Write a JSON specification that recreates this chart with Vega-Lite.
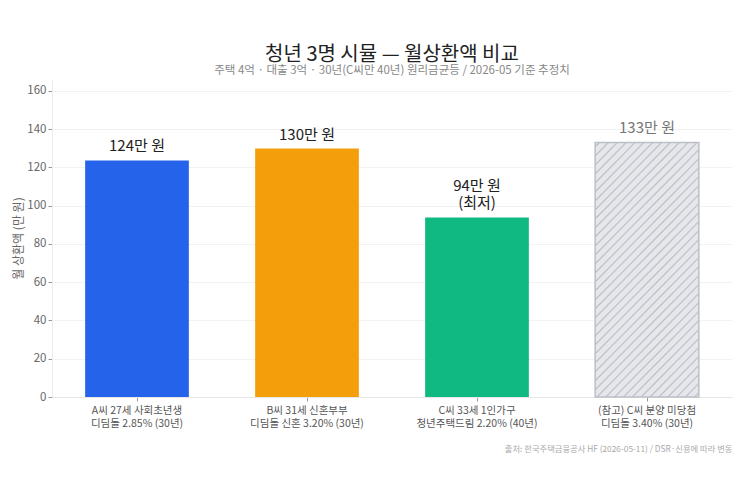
{
  "$schema": "https://vega.github.io/schema/vega-lite/v6.json",
  "width": 750,
  "height": 500,
  "autosize": {"type": "fit", "contains": "padding"},
  "padding": {"left": 12, "right": 18, "top": 44, "bottom": 47},
  "background": "white",
  "config": {"font": "Noto Sans CJK KR", "view": {"stroke": null}},
  "title": {
    "text": "청년 3명 시뮬 — 월상환액 비교",
    "subtitle": "주택 4억 · 대출 3억 · 30년(C씨만 40년) 원리금균등 / 2026-05 기준 추정치",
    "fontSize": 20,
    "fontWeight": "normal",
    "color": "#222222",
    "subtitleFontSize": 11.5,
    "subtitleColor": "#888888",
    "subtitlePadding": 0,
    "anchor": "middle",
    "frame": "group",
    "offset": 3
  },
  "data": {
    "values": [
      {"key": "A", "label": "A씨 27세 사회초년생|디딤돌 2.85% (30년)", "value": 123.7, "text": "124만 원"},
      {"key": "B", "label": "B씨 31세 신혼부부|디딤돌 신혼 3.20% (30년)", "value": 129.9, "text": "130만 원"},
      {"key": "C", "label": "C씨 33세 1인가구|청년주택드림 2.20% (40년)", "value": 93.9, "text": "94만 원\n(최저)"},
      {"key": "D", "label": "(참고) C씨 분양 미당첨|디딤돌 3.40% (30년)", "value": 133.1, "text": "133만 원"}
    ]
  },
  "encoding": {
    "x": {
      "field": "label",
      "type": "nominal",
      "sort": null,
      "scale": {"paddingInner": 0.39, "paddingOuter": 0.195},
      "axis": {
        "labelExpr": "split(datum.value, '|')",
        "labelAngle": 0,
        "labelFontSize": 10.5,
        "labelColor": "#555555",
        "labelLineHeight": 13,
        "labelPadding": 4,
        "title": "출처: 한국주택금융공사 HF (2026-05-11) / DSR·신용에 따라 변동",
        "titleFontSize": 8.3,
        "titleColor": "#aaaaaa",
        "titleFontWeight": "normal",
        "titleAnchor": "end",
        "titlePadding": 16,
        "domainColor": "#e6e6e6",
        "tickColor": "#999999",
        "tickSize": 4,
        "grid": false
      }
    },
    "y": {
      "field": "value",
      "type": "quantitative",
      "scale": {"domain": [0, 166.25], "nice": false},
      "axis": {
        "title": "월 상환액 (만 원)",
        "titleFontSize": 12,
        "titleColor": "#666666",
        "titleFontWeight": "normal",
        "titlePadding": 1,
        "values": [0, 20, 40, 60, 80, 100, 120, 140, 160],
        "labelColor": "#666666",
        "labelFontSize": 11.5,
        "labelPadding": 2,
        "gridColor": "#f2f2f2",
        "domainColor": "#ececec",
        "tickColor": "#999999",
        "tickSize": 4
      }
    }
  },
  "layer": [
    {
      "transform": [{"filter": "datum.key !== 'D'"}],
      "mark": {"type": "bar"},
      "encoding": {
        "color": {
          "field": "key",
          "type": "nominal",
          "scale": {"domain": ["A", "B", "C"], "range": ["#2563eb", "#f59e0b", "#10b981"]},
          "legend": null
        }
      }
    },
    {
      "transform": [{"filter": "datum.key === 'D'"}],
      "mark": {
        "type": "bar",
        "stroke": "#bcc0c6",
        "strokeWidth": 1.5,
        "fill": {
          "gradient": "linear",
          "x1": 0, "y1": 0, "x2": 0.499, "y2": 1.207,
          "stops": [
            {"offset": 0.008, "color": "#e5e7eb"}, {"offset": 0.0125, "color": "#b9bdc4"}, {"offset": 0.017, "color": "#e5e7eb"},
            {"offset": 0.033, "color": "#e5e7eb"}, {"offset": 0.0375, "color": "#b9bdc4"}, {"offset": 0.042, "color": "#e5e7eb"},
            {"offset": 0.058, "color": "#e5e7eb"}, {"offset": 0.0625, "color": "#b9bdc4"}, {"offset": 0.067, "color": "#e5e7eb"},
            {"offset": 0.083, "color": "#e5e7eb"}, {"offset": 0.0875, "color": "#b9bdc4"}, {"offset": 0.092, "color": "#e5e7eb"},
            {"offset": 0.108, "color": "#e5e7eb"}, {"offset": 0.1125, "color": "#b9bdc4"}, {"offset": 0.117, "color": "#e5e7eb"},
            {"offset": 0.133, "color": "#e5e7eb"}, {"offset": 0.1375, "color": "#b9bdc4"}, {"offset": 0.142, "color": "#e5e7eb"},
            {"offset": 0.158, "color": "#e5e7eb"}, {"offset": 0.1625, "color": "#b9bdc4"}, {"offset": 0.167, "color": "#e5e7eb"},
            {"offset": 0.183, "color": "#e5e7eb"}, {"offset": 0.1875, "color": "#b9bdc4"}, {"offset": 0.192, "color": "#e5e7eb"},
            {"offset": 0.208, "color": "#e5e7eb"}, {"offset": 0.2125, "color": "#b9bdc4"}, {"offset": 0.217, "color": "#e5e7eb"},
            {"offset": 0.233, "color": "#e5e7eb"}, {"offset": 0.2375, "color": "#b9bdc4"}, {"offset": 0.242, "color": "#e5e7eb"},
            {"offset": 0.258, "color": "#e5e7eb"}, {"offset": 0.2625, "color": "#b9bdc4"}, {"offset": 0.267, "color": "#e5e7eb"},
            {"offset": 0.283, "color": "#e5e7eb"}, {"offset": 0.2875, "color": "#b9bdc4"}, {"offset": 0.292, "color": "#e5e7eb"},
            {"offset": 0.308, "color": "#e5e7eb"}, {"offset": 0.3125, "color": "#b9bdc4"}, {"offset": 0.317, "color": "#e5e7eb"},
            {"offset": 0.333, "color": "#e5e7eb"}, {"offset": 0.3375, "color": "#b9bdc4"}, {"offset": 0.342, "color": "#e5e7eb"},
            {"offset": 0.358, "color": "#e5e7eb"}, {"offset": 0.3625, "color": "#b9bdc4"}, {"offset": 0.367, "color": "#e5e7eb"},
            {"offset": 0.383, "color": "#e5e7eb"}, {"offset": 0.3875, "color": "#b9bdc4"}, {"offset": 0.392, "color": "#e5e7eb"},
            {"offset": 0.408, "color": "#e5e7eb"}, {"offset": 0.4125, "color": "#b9bdc4"}, {"offset": 0.417, "color": "#e5e7eb"},
            {"offset": 0.433, "color": "#e5e7eb"}, {"offset": 0.4375, "color": "#b9bdc4"}, {"offset": 0.442, "color": "#e5e7eb"},
            {"offset": 0.458, "color": "#e5e7eb"}, {"offset": 0.4625, "color": "#b9bdc4"}, {"offset": 0.467, "color": "#e5e7eb"},
            {"offset": 0.483, "color": "#e5e7eb"}, {"offset": 0.4875, "color": "#b9bdc4"}, {"offset": 0.492, "color": "#e5e7eb"},
            {"offset": 0.508, "color": "#e5e7eb"}, {"offset": 0.5125, "color": "#b9bdc4"}, {"offset": 0.517, "color": "#e5e7eb"},
            {"offset": 0.533, "color": "#e5e7eb"}, {"offset": 0.5375, "color": "#b9bdc4"}, {"offset": 0.542, "color": "#e5e7eb"},
            {"offset": 0.558, "color": "#e5e7eb"}, {"offset": 0.5625, "color": "#b9bdc4"}, {"offset": 0.567, "color": "#e5e7eb"},
            {"offset": 0.583, "color": "#e5e7eb"}, {"offset": 0.5875, "color": "#b9bdc4"}, {"offset": 0.592, "color": "#e5e7eb"},
            {"offset": 0.608, "color": "#e5e7eb"}, {"offset": 0.6125, "color": "#b9bdc4"}, {"offset": 0.617, "color": "#e5e7eb"},
            {"offset": 0.633, "color": "#e5e7eb"}, {"offset": 0.6375, "color": "#b9bdc4"}, {"offset": 0.642, "color": "#e5e7eb"},
            {"offset": 0.658, "color": "#e5e7eb"}, {"offset": 0.6625, "color": "#b9bdc4"}, {"offset": 0.667, "color": "#e5e7eb"},
            {"offset": 0.683, "color": "#e5e7eb"}, {"offset": 0.6875, "color": "#b9bdc4"}, {"offset": 0.692, "color": "#e5e7eb"},
            {"offset": 0.708, "color": "#e5e7eb"}, {"offset": 0.7125, "color": "#b9bdc4"}, {"offset": 0.717, "color": "#e5e7eb"},
            {"offset": 0.733, "color": "#e5e7eb"}, {"offset": 0.7375, "color": "#b9bdc4"}, {"offset": 0.742, "color": "#e5e7eb"},
            {"offset": 0.758, "color": "#e5e7eb"}, {"offset": 0.7625, "color": "#b9bdc4"}, {"offset": 0.767, "color": "#e5e7eb"},
            {"offset": 0.783, "color": "#e5e7eb"}, {"offset": 0.7875, "color": "#b9bdc4"}, {"offset": 0.792, "color": "#e5e7eb"},
            {"offset": 0.808, "color": "#e5e7eb"}, {"offset": 0.8125, "color": "#b9bdc4"}, {"offset": 0.817, "color": "#e5e7eb"},
            {"offset": 0.833, "color": "#e5e7eb"}, {"offset": 0.8375, "color": "#b9bdc4"}, {"offset": 0.842, "color": "#e5e7eb"},
            {"offset": 0.858, "color": "#e5e7eb"}, {"offset": 0.8625, "color": "#b9bdc4"}, {"offset": 0.867, "color": "#e5e7eb"},
            {"offset": 0.883, "color": "#e5e7eb"}, {"offset": 0.8875, "color": "#b9bdc4"}, {"offset": 0.892, "color": "#e5e7eb"},
            {"offset": 0.908, "color": "#e5e7eb"}, {"offset": 0.9125, "color": "#b9bdc4"}, {"offset": 0.917, "color": "#e5e7eb"},
            {"offset": 0.933, "color": "#e5e7eb"}, {"offset": 0.9375, "color": "#b9bdc4"}, {"offset": 0.942, "color": "#e5e7eb"},
            {"offset": 0.958, "color": "#e5e7eb"}, {"offset": 0.9625, "color": "#b9bdc4"}, {"offset": 0.967, "color": "#e5e7eb"},
            {"offset": 0.983, "color": "#e5e7eb"}, {"offset": 0.9875, "color": "#b9bdc4"}, {"offset": 0.992, "color": "#e5e7eb"}
          ]
        }
      }
    },
    {
      "transform": [{"filter": "datum.key !== 'C'"}],
      "mark": {"type": "text", "baseline": "bottom", "dy": -6, "fontSize": 15},
      "encoding": {
        "text": {"field": "text"},
        "color": {"condition": {"test": "datum.key === 'D'", "value": "#777777"}, "value": "#222222"}
      }
    },
    {
      "transform": [{"filter": "datum.key === 'C'"}],
      "mark": {"type": "text", "baseline": "bottom", "dy": -23, "fontSize": 15, "lineBreak": "\n", "lineHeight": 17, "color": "#222222"},
      "encoding": {
        "text": {"field": "text"}
      }
    }
  ]
}
